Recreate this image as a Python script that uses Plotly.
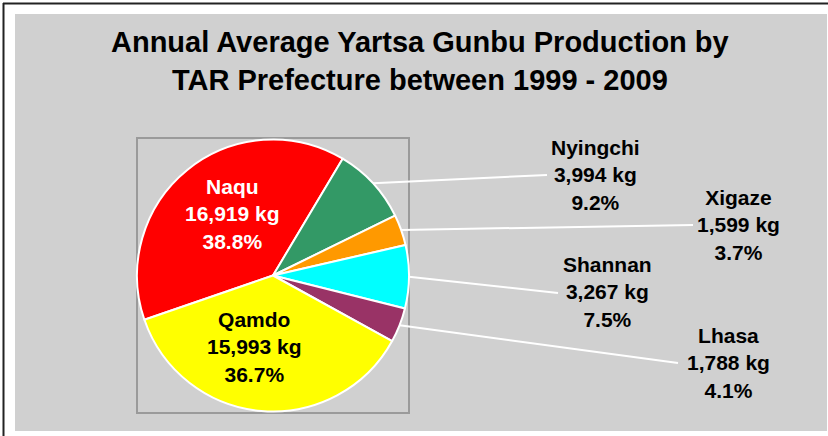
import math
import plotly.graph_objects as go

# ---- data ----
prefectures = ["Naqu", "Nyingchi", "Xigaze", "Shannan", "Lhasa", "Qamdo"]
production_kg = [16919, 3994, 1599, 3267, 1788, 15993]
slice_colors = ["#FF0000", "#339966", "#FF9900", "#00FFFF", "#993366", "#FFFF00"]
title_lines = ["Annual Average Yartsa Gunbu Production by", "TAR Prefecture between 1999 - 2009"]

# ---- layout (pixels) ----
W, H = 828, 436
ROT = 251  # start angle of first slice, clockwise from 12 o'clock
pie_box = (137, 138, 409, 413)  # x0, y0, x1, y1
label_pos = {"Naqu": (232, 214), "Qamdo": (255, 347),
             "Nyingchi": (595, 175), "Xigaze": (738, 225),
             "Shannan": (607, 292), "Lhasa": (728, 363)}
leader_end = {"Nyingchi": (547, 175), "Xigaze": (693, 225),
              "Shannan": (558, 293), "Lhasa": (678, 363)}
label_color = {"Naqu": "white"}
FONT = "Liberation Sans, Arial, sans-serif"


def px(x):
    return x / W


def py(y):
    return 1 - y / H


total = sum(production_kg)

fig = go.Figure(go.Pie(
    labels=prefectures, values=production_kg, sort=False,
    direction="clockwise", rotation=ROT,
    marker=dict(colors=slice_colors, line=dict(color="white", width=2)),
    textinfo="none", hoverinfo="label+value+percent", showlegend=False,
    domain=dict(x=[px(pie_box[0]), px(pie_box[2])], y=[py(pie_box[3]), py(pie_box[1])]),
))

shapes = [
    dict(type="rect", xref="paper", yref="paper", x0=px(15), x1=px(827), y0=py(431), y1=py(14),
         fillcolor="#D0D0D0", line=dict(width=0), layer="below"),
    dict(type="line", xref="paper", yref="paper", x0=px(3.5), x1=px(3.5), y0=py(3), y1=py(436),
         line=dict(color="#222", width=2), layer="below"),
    dict(type="line", xref="paper", yref="paper", x0=px(3), x1=px(828), y0=py(3.5), y1=py(3.5),
         line=dict(color="#222", width=2), layer="below"),
    dict(type="rect", xref="paper", yref="paper", x0=px(pie_box[0]), x1=px(pie_box[2]),
         y0=py(pie_box[3]), y1=py(pie_box[1]), line=dict(color="#9A9A9A", width=2), layer="below"),
]

cx = (pie_box[0] + pie_box[2]) / 2
cy = (pie_box[1] + pie_box[3]) / 2
r = min(pie_box[2] - pie_box[0], pie_box[3] - pie_box[1]) / 2

annotations = []
cum = 0
for name, v in zip(prefectures, production_kg):
    mid = math.radians(ROT + 360 * (cum + v / 2) / total)
    cum += v
    pct = v / total * 100
    txt = f"<b>{name}</b><br><b>{v:,} kg</b><br><b>{pct:.1f}%</b>"
    lx, ly = label_pos[name]
    annotations.append(dict(xref="paper", yref="paper", x=px(lx), y=py(ly), text=txt,
                            showarrow=False, xanchor="center", yanchor="middle",
                            font=dict(family=FONT, size=21, color=label_color.get(name, "black"))))
    if name in leader_end:
        sx = cx + r * math.sin(mid)
        sy = cy - r * math.cos(mid)
        ex, ey = leader_end[name]
        shapes.append(dict(type="line", xref="paper", yref="paper", x0=px(sx), y0=py(sy),
                           x1=px(ex), y1=py(ey), line=dict(color="white", width=2)))

annotations.append(dict(xref="paper", yref="paper", x=px(420), y=py(61),
                        text="<b>" + "<br>".join(title_lines) + "</b>", showarrow=False,
                        xanchor="center", yanchor="middle",
                        font=dict(family=FONT, size=29, color="black")))

fig.update_layout(width=W, height=H, margin=dict(l=0, r=0, t=0, b=0),
                  paper_bgcolor="white", plot_bgcolor="white",
                  shapes=shapes, annotations=annotations)

fig.write_html("out.html", config={"displayModeBar": False},
               post_script="document.body.style.margin='0';document.body.style.overflow='hidden';")
